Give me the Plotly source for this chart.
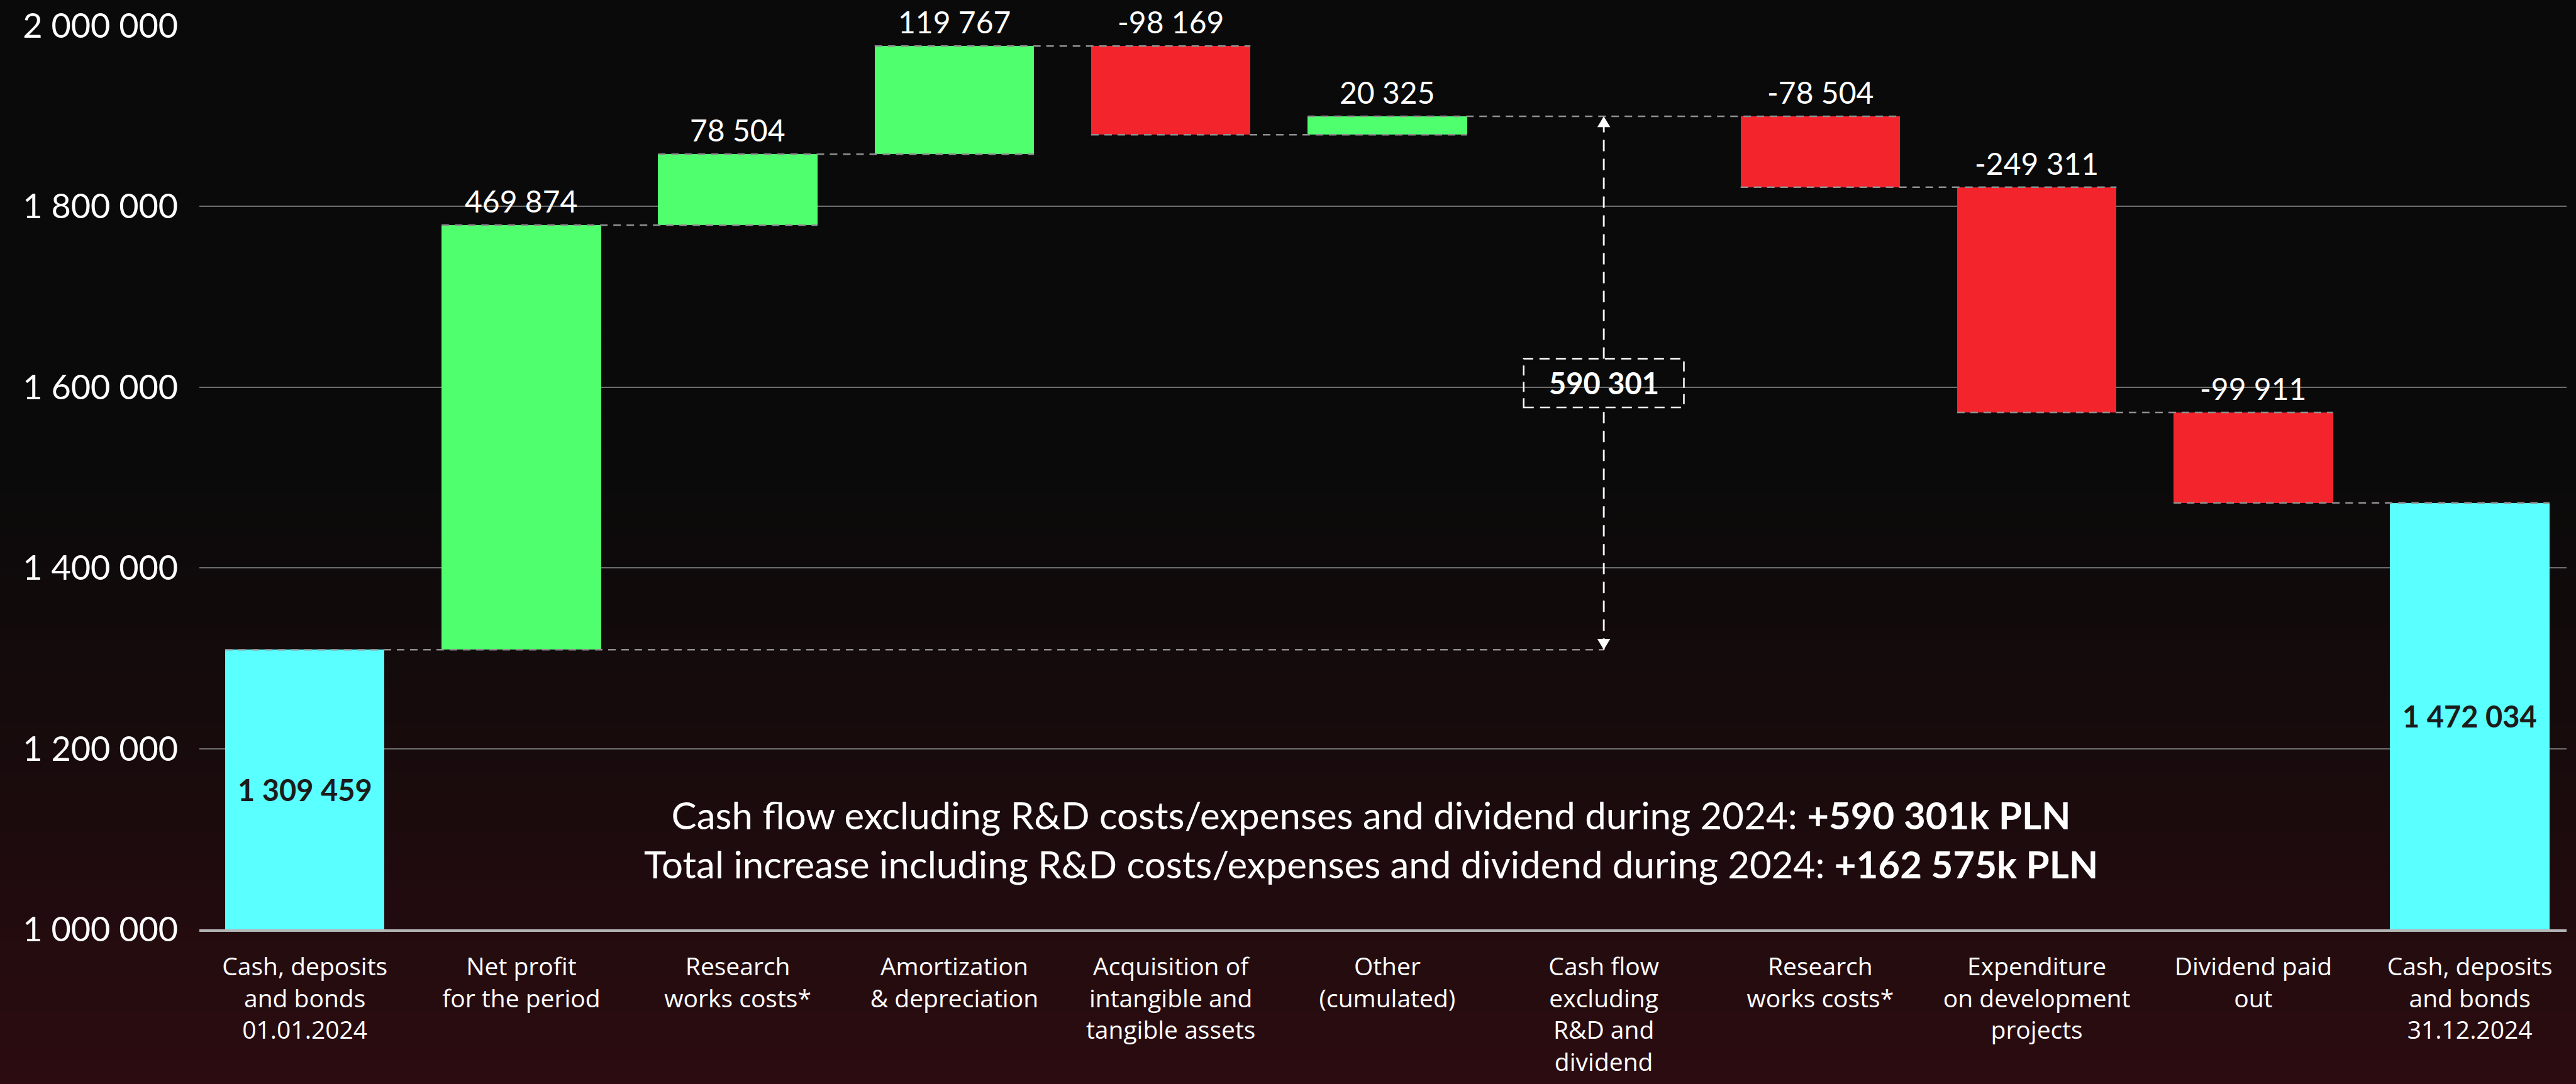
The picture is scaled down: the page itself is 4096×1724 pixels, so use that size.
import plotly.graph_objects as go

# ---------------- data ----------------
categories = [
    "Cash, deposits<br>and bonds<br>01.01.2024",
    "Net profit<br>for the period",
    "Research<br>works costs*",
    "Amortization<br>& depreciation",
    "Acquisition of<br>intangible and<br>tangible assets",
    "Other<br>(cumulated)",
    "Cash flow<br>excluding<br>R&D and<br>dividend",
    "Research<br>works costs*",
    "Expenditure<br>on development<br>projects",
    "Dividend paid<br>out",
    "Cash, deposits<br>and bonds<br>31.12.2024",
]
values = [1309459, 469874, 78504, 119767, -98169, 20325, 590301, -78504, -249311, -99911, 1472034]
measures = ["absolute", "relative", "relative", "relative", "relative", "relative",
            "bracket", "relative", "relative", "relative", "total"]
ytick_vals = [1000000, 1200000, 1400000, 1600000, 1800000, 2000000]
summary_lines = [
    ("Cash flow excluding R&D costs/expenses and dividend during 2024: ", "+590 301k PLN"),
    ("Total increase including R&D costs/expenses and dividend during 2024: ", "+162 575k PLN"),
]

# ---------------- style ----------------
W, H = 4096, 1724
ML, MR, MT, MB = 317, 15, 41, 246
Y0, Y1 = 1000000, 2000000
X_RANGE = [-0.487, 10.447]
BAR_W = 0.736
FONT = "Lato"
CAT_FONT = "Open Sans"
C_TOTAL, C_UP, C_DOWN = "#5AFFFF", "#50FF6E", "#F4242D"


def fmt(v):
    return f"{abs(v):,}".replace(",", " ")


# compute waterfall geometry from data
bases, heights, colors, levels = [], [], [], []
level = 0
for v, m in zip(values, measures):
    if m in ("absolute", "total"):
        bases.append(Y0); heights.append(v - Y0); colors.append(C_TOTAL)
        level = v
    elif m == "bracket":
        bases.append(None); heights.append(None); colors.append("rgba(0,0,0,0)")
    else:
        lo = min(level, level + v)
        bases.append(lo); heights.append(abs(v)); colors.append(C_UP if v > 0 else C_DOWN)
        level = level + v
    levels.append(level)

xs = list(range(len(values)))
fig = go.Figure()
fig.add_trace(go.Bar(
    x=xs, y=heights, base=bases, width=BAR_W,
    marker=dict(color=colors, line=dict(width=0)),
    hoverinfo="skip", showlegend=False,
))

shapes = []
annotations = []

# background gradient (paper-wide bands)
plot_h = H - MT - MB
plot_w = W - ML - MR
N = 90
def lerp(a, b, t):
    return int(round(a + (b - a) * t))
top_c = (10, 10, 10)
bot_c = (44, 12, 16)
for i in range(N):
    p0 = H * i / N
    p1 = H * (i + 1) / N + 1
    t = (p0 + p1) / 2 / H
    s = max(0.0, (t - 0.42) / 0.58)
    s = s ** 1.15
    c = tuple(lerp(top_c[k], bot_c[k], s) for k in range(3))
    shapes.append(dict(
        type="rect", xref="paper", yref="paper", layer="below",
        x0=(0 - ML) / plot_w, x1=(W - ML) / plot_w,
        y0=(H - MB - p1) / plot_h, y1=(H - MB - p0) / plot_h,
        fillcolor=f"rgb{c}", line=dict(width=0),
    ))

# connectors
conn_style = dict(color="#8f8f8f", width=2.5, dash="12px,9px")
bracket_idx = measures.index("bracket")
for i in range(len(values) - 1):
    if measures[i] == "bracket":
        continue
    nxt = i + 1 if measures[i + 1] != "bracket" else i + 2
    x_end = nxt + BAR_W / 2
    if i == 0:
        x_end = bracket_idx
    shapes.append(dict(type="line", xref="x", yref="y", layer="above",
                       x0=i - BAR_W / 2, x1=x_end, y0=levels[i], y1=levels[i],
                       line=conn_style))

# bracket arrow (cash flow excluding R&D)
y_lo = levels[0]
y_hi = levels[bracket_idx - 1]
y_mid = (y_lo + y_hi) / 2
box_hh = 27000
box_hw = 0.37
arrow_style = dict(color="white", width=2.8, dash="18px,12px")
shapes.append(dict(type="line", xref="x", yref="y", x0=bracket_idx, x1=bracket_idx,
                   y0=y_mid + box_hh, y1=y_hi, line=arrow_style, layer="above"))
shapes.append(dict(type="line", xref="x", yref="y", x0=bracket_idx, x1=bracket_idx,
                   y0=y_lo, y1=y_mid - box_hh - 4000, line=arrow_style, layer="above"))
shapes.append(dict(type="rect", xref="x", yref="y", x0=bracket_idx - box_hw, x1=bracket_idx + box_hw,
                   y0=y_mid - box_hh, y1=y_mid + box_hh,
                   line=dict(color="white", width=2.5, dash="16px,10px"),
                   fillcolor="rgba(0,0,0,0)", layer="above"))
tw, th = 0.03, 12000
shapes.append(dict(type="path", xref="x", yref="y", layer="above",
                   path=f"M {bracket_idx - tw},{y_hi - th} L {bracket_idx + tw},{y_hi - th} L {bracket_idx},{y_hi} Z",
                   fillcolor="white", line=dict(width=0)))
shapes.append(dict(type="path", xref="x", yref="y", layer="above",
                   path=f"M {bracket_idx - tw},{y_lo + th} L {bracket_idx + tw},{y_lo + th} L {bracket_idx},{y_lo} Z",
                   fillcolor="white", line=dict(width=0)))
annotations.append(dict(x=bracket_idx, y=y_mid, xref="x", yref="y", text=f"<b>{fmt(values[bracket_idx])}</b>",
                        showarrow=False, font=dict(family=FONT, size=47, color="white"),
                        xanchor="center", yanchor="middle"))

# value labels
for i, (v, m) in enumerate(zip(values, measures)):
    if m in ("absolute", "total"):
        annotations.append(dict(x=i, y=bases[i] + heights[i] / 2, xref="x", yref="y",
                                text=f"<b>{fmt(v)}</b>", showarrow=False,
                                font=dict(family=FONT, size=47, color="#1c1c1c"),
                                xanchor="center", yanchor="middle"))
    elif m == "relative":
        top = bases[i] + heights[i]
        txt = fmt(v) if v > 0 else "-" + fmt(v)
        annotations.append(dict(x=i, y=top, xref="x", yref="y", text=txt, showarrow=False,
                                font=dict(family=FONT, size=48, color="white"),
                                xanchor="center", yanchor="bottom", yshift=8))

# summary text
annotations.append(dict(
    x=0.495, y=1099600, xref="paper", yref="y",
    text="<br>".join(f"{a}<b>{b}</b>" for a, b in summary_lines),
    showarrow=False, align="center", xanchor="center", yanchor="middle",
    font=dict(family=FONT, size=60, color="white"),
))

fig.update_layout(
    width=W, height=H,
    margin=dict(l=ML, r=MR, t=MT, b=MB, pad=0, autoexpand=False),
    paper_bgcolor="#0a0a0a",
    plot_bgcolor="rgba(0,0,0,0)",
    separators=". ",
    shapes=shapes,
    annotations=annotations,
    bargap=0,
    font=dict(family=FONT, color="white"),
    xaxis=dict(
        range=X_RANGE, tickmode="array", tickvals=xs, ticktext=categories,
        showgrid=False, zeroline=False, automargin=False,
        showline=True, linecolor="#b5b5b5", linewidth=4,
        ticks="outside", ticklen=22, tickcolor="rgba(0,0,0,0)",
        tickfont=dict(family=CAT_FONT, size=39, color="white"),
    ),
    yaxis=dict(
        range=[Y0, Y1], tickmode="array", tickvals=ytick_vals,
        ticktext=[fmt(v) for v in ytick_vals],
        showgrid=True, gridcolor="#6e6e6e", gridwidth=1.5,
        zeroline=False, showline=False, automargin=False,
        ticks="outside", ticklen=22, tickcolor="rgba(0,0,0,0)",
        tickfont=dict(family=FONT, size=54, color="white"),
    ),
)

fig.write_html(
    "out.html",
    config={"displayModeBar": False},
    post_script="document.body.style.margin='0';document.body.style.background='#0a0a0a';",
)
